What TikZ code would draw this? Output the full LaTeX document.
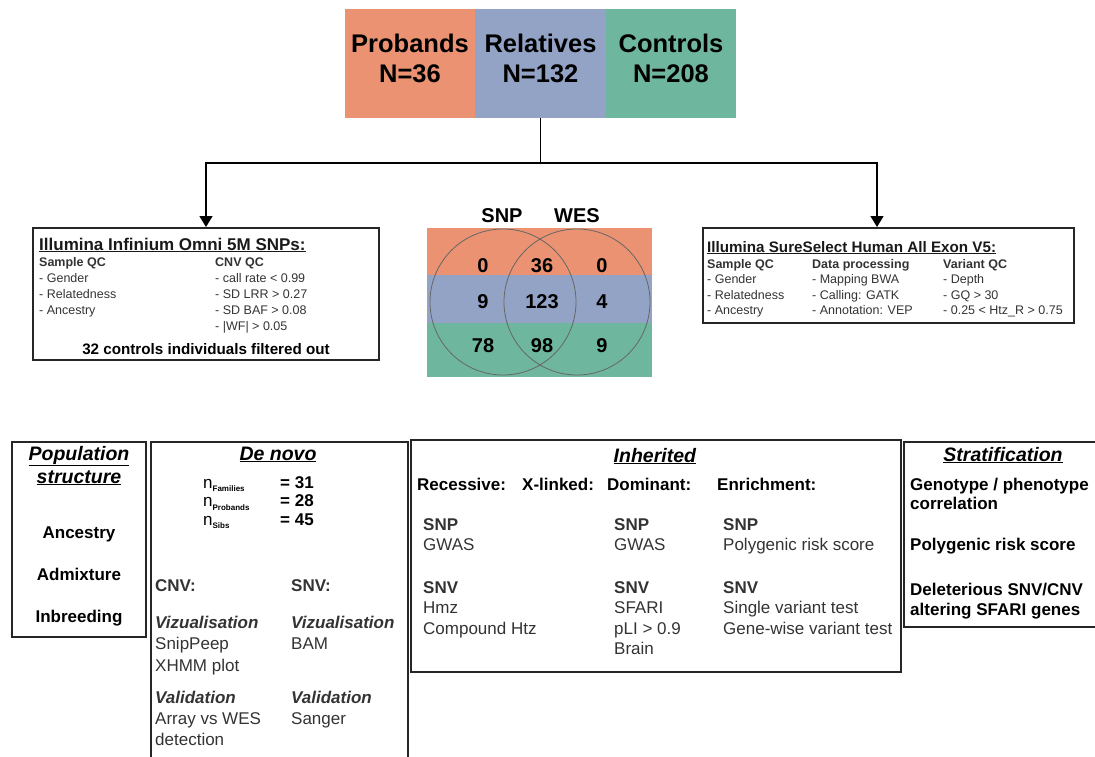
\documentclass[tikz,border=0pt]{standalone}
\usepackage{fontspec}
\setmainfont{Liberation Sans}
\usepackage{tikz}
\usetikzlibrary{arrows.meta}
\definecolor{probands}{RGB}{234,146,114}
\definecolor{relatives}{RGB}{147,163,197}
\definecolor{controls}{RGB}{110,182,158}
\newcommand{\nsub}[1]{n\raisebox{-3.5pt}{\fontsize{8}{8}\selectfont\bfseries #1}}
\newcommand{\hd}[1]{\underline{\textbf{\textit{#1}}}}
\tikzstyle{group} = [inner sep=0pt, minimum height=109pt]
\tikzstyle{grouptext} = [anchor=base, inner sep=0pt, align=center, font=\fontsize{25.5}{30}\selectfont\bfseries]
\tikzstyle{band} = [inner sep=0pt, minimum width=225pt]
\tikzstyle{dataset} = [circle, draw=black!60, line width=0.8pt, minimum size=146pt, inner sep=0pt]
\tikzstyle{count} = [anchor=base, inner sep=0pt, font=\fontsize{20}{24}\selectfont\bfseries]
\tikzstyle{panel} = [draw=black!85, line width=2pt, inner sep=0pt]
\tikzstyle{qc} = [anchor=base west, inner sep=0pt, align=left, text=black!80, font=\fontsize{12.5}{16}\selectfont]
\tikzstyle{body} = [anchor=base west, inner sep=0pt, align=left, text=black!80, font=\fontsize{17}{20.5}\selectfont]
\tikzstyle{heading} = [anchor=base, inner sep=0pt, align=center, font=\fontsize{19.5}{23}\selectfont]
\tikzstyle{link} = [line width=1.5pt, -{Triangle[length=11pt,width=13pt]}]

\begin{document}
\begin{tikzpicture}[x=1pt,y=-1pt]
\useasboundingbox (0,0) rectangle (1095,757);
% cohorts (multi-line texts sit on their last baseline)
\node[group, fill=probands, minimum width=130pt] (prob) at (410,63.5) {};
\node[group, fill=relatives, minimum width=131pt] (rel) at (540.5,63.5) {};
\node[group, fill=controls, minimum width=130pt] (ctrl) at (671,63.5) {};
\node[grouptext] (probt) at (410,83) {Probands\\N=36};
\node[grouptext] (relt) at (540.5,83) {Relatives\\N=132};
\node[grouptext] (ctrlt) at (671,83) {Controls\\N=208};

% QC panels
\node[panel, minimum width=346pt, minimum height=132pt] (snpqc) at (206,294) {};
\node[panel, minimum width=371pt, minimum height=95pt] (wesqc) at (888.5,275.5) {};
\draw[line width=1.5pt] (rel.south) -- ++(0,45) coordinate (split);
\draw[link] (split) -| (snpqc.north);
\draw[link] (split) -| ([xshift=-11.5pt]wesqc.north);

\node[qc, font=\fontsize{17}{20}\selectfont\bfseries, text=black!90] (snptitle) at (39,250)
	{\underline{Illumina Infinium Omni 5M SNPs:}};
\node[qc] (snpsample) at (39,314.5) {\textbf{Sample QC}\\- Gender\\- Relatedness\\- Ancestry};
\node[qc] (snpcnv) at (215,330.5)
	{\textbf{CNV QC}\\- call rate < 0.99\\- SD LRR > 0.27\\- SD BAF > 0.08\\- |WF| > 0.05};
\node[qc, anchor=base, font=\fontsize{15.2}{18}\selectfont\bfseries, text=black] (snpout) at (206,354)
	{32 controls individuals filtered out};

\node[qc, font=\fontsize{15.2}{18}\selectfont\bfseries, text=black!90] (westitle) at (707,252)
	{\underline{Illumina SureSelect Human All Exon V5:}};
\node[qc, font=\fontsize{12.5}{15.5}\selectfont] (wessample) at (707,314.5) {\textbf{Sample QC}\\- Gender\\- Relatedness\\- Ancestry};
\node[qc, font=\fontsize{12.5}{15.5}\selectfont] (wesproc) at (812,314.5)
	{\textbf{Data processing}\\- Mapping BWA\\- Calling: GATK\\- Annotation: VEP};
\node[qc, font=\fontsize{12.5}{15.5}\selectfont] (wesvar) at (943,314.5)
	{\textbf{Variant QC}\\- Depth\\- GQ > 30\\- 0.25 < Htz\_R > 0.75};

% overlap of the two data sets
\node[band, fill=probands, minimum height=47pt] (vprob) at (539.5,251.5) {};
\node[band, fill=relatives, minimum height=48pt] (vrel) at (539.5,299) {};
\node[band, fill=controls, minimum height=54pt] (vctrl) at (539.5,350) {};
\node[dataset] (snpset) at (503,302) {};
\node[dataset] (wesset) at (577,302) {};
\node[count] (snplab) at (502,222) {SNP};
\node[count] (weslab) at (577,222) {WES};
\node[count] (c11) at (483,272) {0};
\node[count] (c12) at (542,272) {36};
\node[count] (c13) at (602,272) {0};
\node[count] (c21) at (483,308) {9};
\node[count] (c22) at (542,308) {123};
\node[count] (c23) at (602,308) {4};
\node[count] (c31) at (483,352) {78};
\node[count] (c32) at (542,352) {98};
\node[count] (c33) at (602,352) {9};

% analyses
\node[panel, minimum width=134pt, minimum height=195pt] (popbox) at (79,539.5) {};
\node[panel, minimum width=257pt, minimum height=330pt] (denovo) at (279,607) {};
\node[panel, minimum width=490pt, minimum height=232pt] (inhbox) at (656,556) {};
\node[panel, minimum width=200pt, minimum height=185pt] (stratbox) at (1004,534.5) {};

\node[heading] (poptitle) at (79,483) {\hd{Population}\\\hd{structure}};
\node[heading, font=\fontsize{17}{42}\selectfont\bfseries] (popitems) at (79,622)
	{Ancestry\\Admixture\\Inbreeding};

\node[heading] (dntitle) at (278,460) {\hd{De novo}};
\node[body, font=\fontsize{17}{18.5}\selectfont, text=black] (dnn) at (203,525)
	{\nsub{Families}\\\nsub{Probands}\\\nsub{Sibs}};
\node[body, font=\fontsize{17}{18.5}\selectfont\bfseries, text=black] (dneq) at (280,525)
	{= 31\\= 28\\= 45};
\node[body] (dncnv) at (155,591) {\textbf{CNV:}};
\node[body] (dnsnv) at (291,591) {\textbf{SNV:}};
\node[body, font=\fontsize{17}{21.5}\selectfont] (cnvviz) at (155,671)
	{\textbf{\textit{Vizualisation}}\\SnipPeep\\XHMM plot};
\node[body, font=\fontsize{17}{21}\selectfont] (cnvval) at (155,745)
	{\textbf{\textit{Validation}}\\Array vs WES\\detection};
\node[body, font=\fontsize{17}{21.5}\selectfont] (snvviz) at (291,649.5)
	{\textbf{\textit{Vizualisation}}\\BAM};
\node[body, font=\fontsize{17}{21}\selectfont] (snvval) at (291,724)
	{\textbf{\textit{Validation}}\\Sanger};

\node[heading] (inhtitle) at (655,462) {\hd{Inherited}};
\node[body, text=black] (recessive) at (417,490) {\textbf{Recessive:}};
\node[body, text=black] (xlinked) at (522,490) {\textbf{X-linked:}};
\node[body, text=black] (dominant) at (607,490) {\textbf{Dominant:}};
\node[body, text=black] (enrich) at (717,490) {\textbf{Enrichment:}};
\node[body] (recsnp) at (423,550.5) {\textbf{SNP}\\GWAS};
\node[body] (recsnv) at (423,634) {\textbf{SNV}\\Hmz\\Compound Htz};
\node[body] (domsnp) at (614,550.5) {\textbf{SNP}\\GWAS};
\node[body] (domsnv) at (614,654.5) {\textbf{SNV}\\SFARI\\pLI > 0.9\\Brain};
\node[body] (enrsnp) at (723,550.5) {\textbf{SNP}\\Polygenic risk score};
\node[body] (enrsnv) at (723,634) {\textbf{SNV}\\Single variant test\\Gene-wise variant test};

\node[heading] (strattitle) at (1003,461) {\hd{Stratification}};
\node[body, font=\fontsize{17}{19.5}\selectfont\bfseries, text=black] (genopheno) at (910,509.5)
	{Genotype / phenotype\\correlation};
\node[body, font=\fontsize{17}{20}\selectfont\bfseries, text=black] (prs) at (910,550)
	{Polygenic risk score};
\node[body, font=\fontsize{17}{20}\selectfont\bfseries, text=black] (delet) at (910,615)
	{Deleterious SNV/CNV\\altering SFARI genes};
\end{tikzpicture}
\end{document}
